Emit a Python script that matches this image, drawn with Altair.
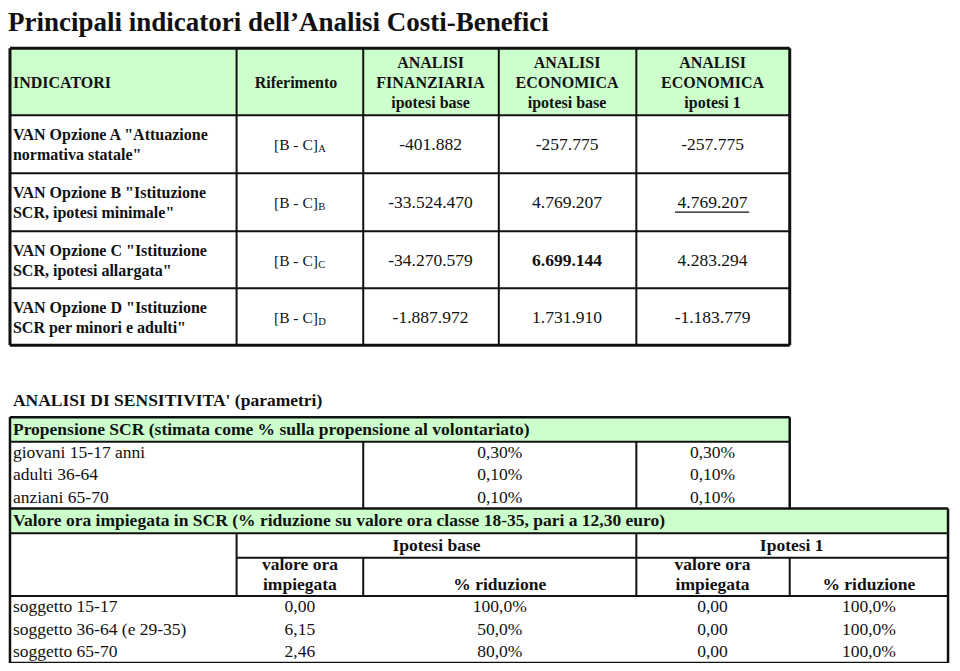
import altair as alt
import pandas as pd

# ---------------- data ----------------
title = "Principali indicatori dell\u2019Analisi Costi-Benefici"

top_headers = ["INDICATORI", "Riferimento",
               "ANALISI\nFINANZIARIA\nipotesi base",
               "ANALISI\nECONOMICA\nipotesi base",
               "ANALISI\nECONOMICA\nipotesi 1"]
indicatori = ['VAN Opzione A "Attuazione\nnormativa statale"',
              'VAN Opzione B "Istituzione\nSCR, ipotesi minimale"',
              'VAN Opzione C "Istituzione\nSCR, ipotesi allargata"',
              'VAN Opzione D "Istituzione\nSCR per minori e adulti"']
riferimento = "[B - C]"
riferimento_sub = ["A", "B", "C", "D"]
fin_base = ["-401.882", "-33.524.470", "-34.270.579", "-1.887.972"]
eco_base = ["-257.775", "4.769.207", "6.699.144", "1.731.910"]
eco_ip1 = ["-257.775", "4.769.207", "4.283.294", "-1.183.779"]

sens_title = "ANALISI DI SENSITIVITA' (parametri)"
prop_header = "Propensione SCR (stimata come % sulla propensione al volontariato)"
prop_groups = ["giovani 15-17 anni", "adulti 36-64", "anziani 65-70"]
prop_base = ["0,30%", "0,10%", "0,10%"]
prop_ip1 = ["0,30%", "0,10%", "0,10%"]

val_header = "Valore ora impiegata in SCR (% riduzione su valore ora classe 18-35, pari a 12,30 euro)"
val_groups = ["Ipotesi base", "Ipotesi 1"]
val_cols = ["valore ora\nimpiegata", "% riduzione", "valore ora\nimpiegata", "% riduzione"]
soggetti = ["\u00a0soggetto 15-17", "soggetto 36-64 (e 29-35)", "soggetto 65-70"]
base_valore = ["0,00", "6,15", "2,46"]
base_rid = ["100,0%", "50,0%", "80,0%"]
ip1_valore = ["0,00", "0,00", "0,00"]
ip1_rid = ["100,0%", "100,0%", "100,0%"]

# ---------------- layout (table geometry, image pixel units) ----------------
W, H = 944, 655
xs = alt.Scale(domain=[3, 957], nice=False, zero=False)
ys = alt.Scale(domain=[2, 668], reverse=True, nice=False, zero=False)
FONT = "Liberation Serif"
GREEN = "#CCFFCC"
LH = 20

L, R1, R2 = 5, 793, 953
tc = [5, 234, 362, 499, 638, 793]          # top table column edges
tr = [43, 111, 170, 229, 287, 345]         # top table row edges
tcc = [8, 294, 430, 568, 715]              # text anchors per column
row_c = [(tr[i] + tr[i + 1]) / 2 + 1 for i in range(1, 5)]

rects, rules, texts = [], [], []

def rule(x, x2, y, y2, w):
    rules.append(dict(x=x, x2=x2, y=y, y2=y2, w=w))

def txt(t, x, y, size, bold=False, anchor="center"):
    n = t.count("\n")
    texts.append(dict(label=t, px=x, py=y - n * LH / 2, fs=size,
                      fw="bold" if bold else "normal", anchor=anchor))

# title
txt(title, 3, 17, 27, True, "left")

# top table
rects.append(dict(x=tc[0], x2=tc[-1], y=tr[0], y2=tr[1]))
for i, yv in enumerate(tr):
    rule(tc[0], tc[-1], yv, yv, 3 if i in (0, len(tr) - 1) else 2)
for i, xv in enumerate(tc):
    rule(xv, xv, tr[0], tr[-1], 3 if i in (0, len(tc) - 1) else 2)
for j, h in enumerate(top_headers):
    txt(h, tcc[j], 78, 16, True, "left" if j == 0 else "center")
for i in range(4):
    y = row_c[i]
    txt(indicatori[i], 8, y, 16, True, "left")
    txt(riferimento, tcc[1], y, 15.5)
    txt(riferimento_sub[i], tcc[1] + 22.5, y + 4, 10.5, False, "left")
    txt(fin_base[i], tcc[2], y, 17.5)
    txt(eco_base[i], tcc[3], y, 17.5, bold=(i == 2))
    txt(eco_ip1[i], tcc[4], y, 17.5)
# underline of the highlighted value
rule(677, 752, row_c[1] + 9, row_c[1] + 9, 1.2)

# sensitivity section
txt(sens_title, 8, 402, 17.5, True, "left")
rects.append(dict(x=L, x2=R1, y=418, y2=443))
rule(L, R1, 418, 418, 2.5)
rule(L, R1, 443, 443, 2)
rule(L, R2, 511, 511, 2.5)
rule(L, L, 418, 668, 2.5)
rule(362, 362, 443, 511, 2)
rule(638, 638, 443, 511, 2)
rule(R1, R1, 418, 511, 2.5)
txt(prop_header, 8, 431, 17.5, True, "left")
for i, yv in enumerate([454, 477, 500]):
    txt(prop_groups[i], 8, yv, 17.5, False, "left")
    txt(prop_base[i], 500, yv, 17.5)
    txt(prop_ip1[i], 715, yv, 17.5)

rects.append(dict(x=L, x2=R2, y=511, y2=536))
txt(val_header, 8, 524, 17.5, True, "left")
rule(L, R2, 536, 536, 2)
rule(234, R2, 561, 561, 2)
rule(L, R2, 600, 600, 2)
rule(L, R2, 668, 668, 2.5)
rule(234, 234, 536, 600, 2)
rule(362, 362, 561, 600, 2)
rule(638, 638, 536, 600, 2)
rule(R1, R1, 561, 600, 2)
rule(R2, R2, 511, 668, 2.5)
txt(val_groups[0], 436, 549, 17.5, True)
txt(val_groups[1], 795, 549, 17.5, True)
vc = [298, 500, 715, 873]
for j, t in enumerate(val_cols):
    txt(t, vc[j], 578.5 if "\n" in t else 589, 17.5, True)
for i, yv in enumerate([611, 634, 657]):
    txt(soggetti[i], 8, yv, 17.5, False, "left")
    txt(base_valore[i], vc[0], yv, 17.5)
    txt(base_rid[i], vc[1], yv, 17.5)
    txt(ip1_valore[i], vc[2], yv, 17.5)
    txt(ip1_rid[i], vc[3], yv, 17.5)

# ---------------- chart ----------------
X = lambda f: alt.X(f, type="quantitative", scale=xs, axis=None)
Y = lambda f: alt.Y(f, type="quantitative", scale=ys, axis=None)

rect_layer = alt.Chart(pd.DataFrame(rects)).mark_rect(color=GREEN).encode(
    x=X("x"), x2="x2", y=Y("y"), y2="y2")

rule_layer = alt.Chart(pd.DataFrame(rules)).mark_rule(color="#111111").encode(
    x=X("x"), x2="x2", y=Y("y"), y2="y2",
    strokeWidth=alt.StrokeWidth("w:Q", scale=None, legend=None))

tdf = pd.DataFrame(texts)
layers = [rect_layer, rule_layer]
for weight in ["normal", "bold"]:
    for anchor in ["left", "center"]:
        sub = tdf[(tdf["fw"] == weight) & (tdf["anchor"] == anchor)].reset_index(drop=True)
        if len(sub) == 0:
            continue
        layers.append(
            alt.Chart(sub).mark_text(font=FONT, fontWeight=weight, align=anchor,
                                     baseline="middle", lineBreak="\n", lineHeight=LH,
                                     color="#111111").encode(
                x=X("px"), y=Y("py"), text="label:N",
                size=alt.Size("fs:Q", scale=None, legend=None)))

chart = alt.layer(*layers).properties(
    width=W, height=H, padding=0,
    autosize=alt.AutoSizeParams(type="none"), background="white"
).configure_view(stroke=None)

chart.save("out.html", embed_options={"renderer": "svg", "actions": False})
